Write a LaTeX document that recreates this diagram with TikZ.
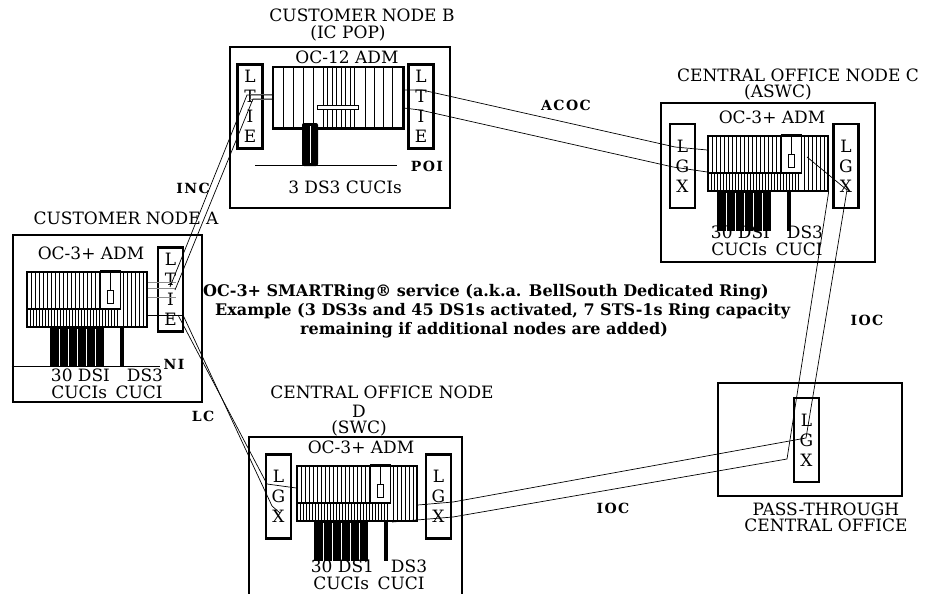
\documentclass[tikz,border=0pt]{standalone}
\usepackage{fontspec}
\setmainfont{DejaVu Serif}

\begin{document}
\begin{tikzpicture}[x=1pt,y=-1pt,
  sitebox/.style={draw=black,line width=2.6pt,inner sep=0pt},
  termbox/.style={draw=black,line width=2.2pt,inner sep=0pt,
    minimum width=25pt,minimum height=84pt,align=center,
    font=\fontsize{17}{20}\selectfont},
  nametext/.style={inner sep=0pt,align=center,font=\fontsize{17}{17}\selectfont},
  linktext/.style={inner sep=0pt,
    font=\fontsize{14}{14}\selectfont\bfseries\addfontfeature{LetterSpace=10}},
  ringtext/.style={inner sep=0pt,anchor=west,font=\fontsize{16}{16}\selectfont\bfseries},
  shelf/.style={draw=black,line width=1.4pt,inner sep=0pt},
  hatch/.style={line width=0.6pt},
  fiber/.style={line width=0.7pt},
  stub/.style={line width=1pt,black!45}]
  \useasboundingbox (0,0) rectangle (942,594);
  \clip (0,0) rectangle (942,594);

% Site boxes
  \node[sitebox,minimum width=189pt,minimum height=167pt] (siteA) at (107.5,318.5) {};
  \node[sitebox,minimum width=220pt,minimum height=161pt] (siteB) at (340,127.5) {};
  \node[sitebox,minimum width=214pt,minimum height=159pt] (siteC) at (768,182.5) {};
  \node[sitebox,minimum width=213pt,minimum height=180pt] (siteD) at (355.5,527) {};
  \node[sitebox,minimum width=184pt,minimum height=113pt] (siteP) at (810,439.5) {};

% Titles
  \node[nametext] (titleA) at (126,218) {CUSTOMER NODE A};
  \node[nametext] (titleB) at (362,15) {CUSTOMER NODE B};
  \node[nametext] (popB) at (348,33) {(IC POP)};
  \node[nametext,anchor=west] (titleC) at (677,75) {CENTRAL OFFICE NODE C};
  \node[nametext] (aswcC) at (778,92) {(ASWC)};
  \node[nametext] (titleD) at (382,392) {CENTRAL OFFICE NODE};
  \node[nametext,font=\fontsize{17}{16}\selectfont] (swcD) at (359,421) {D\\(SWC)};
  \node[nametext,font=\fontsize{17}{16}\selectfont] (titleP) at (826,517)
    {PASS-THROUGH\\CENTRAL OFFICE};

% Line terminating boxes
  \node[termbox] (lteA) at (170.5,289.5) {L\\T\\I\\E};
  \node[termbox] (lteB1) at (250,106.5) {L\\T\\I\\E};
  \node[termbox] (lteB2) at (421,106.5) {L\\T\\I\\E};
  \node[termbox] (lgxC1) at (682.5,166) {L\\G\\X};
  \node[termbox] (lgxC2) at (846,166) {L\\G\\X};
  \node[termbox] (lgxD1) at (278.5,496.5) {L\\G\\X};
  \node[termbox] (lgxD2) at (438.5,496.5) {L\\G\\X};
  \node[termbox] (lgxP) at (806.5,440) {L\\G\\X};

% OC-3+ ADM shelves, the loop draws nodes A, C and D
  \foreach \n/\sx/\sy/\pl/\ds/\tx/\ty/\ft in {A/27/272/23/93/80/112/DSI,
    C/708/136/9/79/59/105/DSI,D/297/466/17/87/72/109/DS1}{
  %third and fourth parameter place the DS1 ports and the DS3 port
  \begin{scope}[shift={(\sx,\sy)}]
    \node[nametext] (oc\n) at (64,-19) {OC-3+ ADM};
    \node[shelf,minimum width=120pt,minimum height=55pt] (adm\n) at (60,27.5) {};
    \foreach \i in {4,8,...,72} \draw[hatch] (\i,0)--(\i,37);
    \foreach \i in {96,100,...,116} \draw[hatch] (\i,0)--(\i,55);
    \foreach \i in {3,6,...,90} \draw[hatch] (\i,37)--(\i,55);
    \draw[line width=1.6pt] (0,37)--(93,37);
    \draw[hatch] (73,-2) rectangle (93,37);
    \draw[hatch] (83,-2)--(83,18);
    \draw[line width=1pt] (80,18) rectangle (86,31);
    \fill (\pl,55) rectangle ++(54,40);
    \foreach \g in {9,18,27,36,45}
      \draw[white,line width=1pt] (\pl+\g,57)--(\pl+\g,95);
    \fill (\ds,55) rectangle ++(4,40);
    \node[nametext] (cuci\n) at (\tx,\ty) {30 \ft\quad DS3\\CUCIs\enspace CUCI};
  \end{scope}}
  \draw[hatch] (siteA.west |- 0,366) -- (160,366);

% OC-12 ADM shelf
  \node[nametext] (ocB) at (347,57) {OC-12 ADM};
  \node[shelf,minimum width=130pt,minimum height=61pt] (admB) at (338,97.5) {};
  \foreach \i in {283,293,...,323} \draw[hatch] (\i,67)--(\i,128);
  \foreach \i in {327.5,332,...,355} \draw[hatch] (\i,67)--(\i,128);
  \foreach \i in {365,374,...,395} \draw[hatch] (\i,67)--(\i,128);
  \draw[line width=2.4pt] (admB.north east) -- (admB.south east) -- (admB.south west);
  \draw[fill=white,line width=0.8pt] (317,105) rectangle (358,109);
  \fill[rounded corners=2pt] (302,123) rectangle (318,166);
  \draw[white,line width=0.6pt] (310,126)--(310,163);
  \draw[hatch] (255,165) -- (397,165);
  \node[nametext] (cuciB) at (345,187) {3 DS3 CUCIs};

% Ring spans
  \draw[stub] \foreach \yy in {282,288,297} {(admA.east |- 0,\yy) -- (176,\yy)};
  \draw[fiber] (admA.east |- 0,315) -- (183,315);
  \draw[stub] \foreach \yy in {94,99} {(lteB1.center |- 0,\yy) -- (admB.west |- 0,\yy)};
  % INC
  \draw[fiber] (170,287) -- (247,95) -- (admB.west |- 0,95);
  \draw[fiber] (175,290) -- (253,99) -- (admB.west |- 0,99);
  % LC
  \draw[fiber] (178,315) -- (267,484) -- (admD.west |- 0,488);
  \draw[fiber] (183,315) -- (272,506) -- (280,513);
  % ACOC
  \draw[fiber] (admB.east |- 0,90) -- (422,90) -- (675,147) -- (admC.west |- 0,150);
  \draw[fiber] (admB.east |- 0,108) -- (420,110) -- (673,167) -- (admC.west |- 0,172);
  % IOC through the pass-through office
  \draw[fiber] (807,157) -- (847,190) -- (806,438) -- (453,502) -- (admD.east |- 0,505);
  \draw[fiber] (admC.south east) -- (787,459) -- (453,517) -- (392,522);

% Span labels
  \node[linktext] (inc) at (193,188) {INC};
  \node[linktext] (ni) at (174,364) {NI};
  \node[linktext] (lc) at (203,416) {LC};
  \node[linktext] (poi) at (427,166) {POI};
  \node[linktext] (acoc) at (566,105) {ACOC};
  \node[linktext] (iocC) at (867,320) {IOC};
  \node[linktext] (iocD) at (613,508) {IOC};

% Service note
  \node[ringtext] (ring1) at (203,292)
    {OC-3+ SMARTRing® service (a.k.a. BellSouth Dedicated Ring)};
  \node[ringtext] (ring2) at (215,311)
    {Example (3 DS3s and 45 DS1s activated, 7 STS-1s Ring capacity};
  \node[ringtext] (ring3) at (300,330) {remaining if additional nodes are added)};
\end{tikzpicture}
\end{document}
